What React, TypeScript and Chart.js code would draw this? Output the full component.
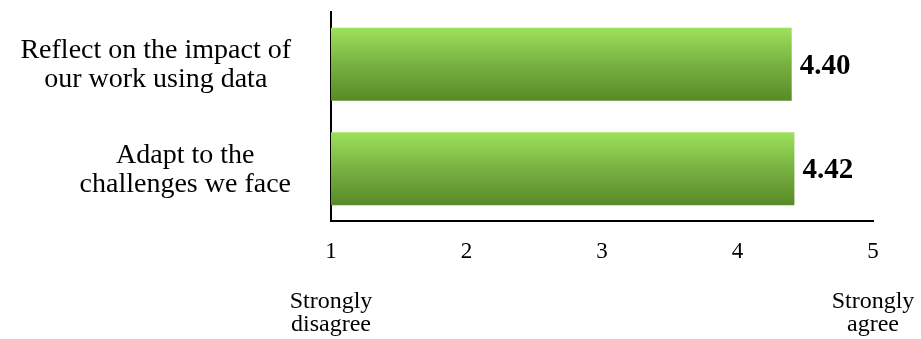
import React, { useEffect, useRef } from 'react';
import { Chart, registerables } from 'chart.js';

Chart.register(...registerables);

const categories: string[][] = [
  ['Reflect on the impact of', 'our work using data'],
  ['Adapt to the', 'challenges we face'],
];
const values: number[] = [4.4, 4.42];
const valueLabels: string[] = ['4.40', '4.42'];
const scaleMin = 1;
const scaleMax = 5;
const scaleEndLabels: string[][] = [
  ['Strongly', 'disagree'],
  ['Strongly', 'agree'],
];
const scaleEndValues: number[] = [1, 5];

const SERIF = '"Liberation Serif", "Times New Roman", serif';
const W = 921;
const H = 339;

const labelPlugin = {
  id: 'customLabels',
  afterDraw(chart: any) {
    const ctx = chart.ctx as CanvasRenderingContext2D;
    const meta = chart.getDatasetMeta(0);
    const area = chart.chartArea;
    ctx.save();
    ctx.fillStyle = '#000';

    // category labels: block right-aligned, lines centred in block
    ctx.font = `28px ${SERIF}`;
    ctx.textAlign = 'center';
    ctx.textBaseline = 'alphabetic';
    categories.forEach((lines, i) => {
      const bar = meta.data[i];
      if (!bar) return;
      const w = Math.max(...lines.map((l) => ctx.measureText(l).width));
      const cx = area.left - 40 - w / 2;
      lines.forEach((l, j) => ctx.fillText(l, cx, bar.y - 6 + j * 29));
    });

    // value labels
    ctx.font = `bold 29px ${SERIF}`;
    ctx.textAlign = 'left';
    ctx.textBaseline = 'middle';
    valueLabels.forEach((t, i) => {
      const bar = meta.data[i];
      if (!bar) return;
      ctx.fillText(t, bar.x + 8, bar.y + 2);
    });

    // scale end labels
    ctx.font = `24px ${SERIF}`;
    ctx.textAlign = 'center';
    ctx.textBaseline = 'alphabetic';
    const xs = chart.scales.x;
    scaleEndLabels.forEach((lines, i) => {
      const x = xs.getPixelForValue(scaleEndValues[i]);
      lines.forEach((l, j) => ctx.fillText(l, x, area.bottom + 87 + j * 23));
    });
    ctx.restore();
  },
};

export default function App() {
  const ref = useRef<HTMLCanvasElement | null>(null);

  useEffect(() => {
    if (!ref.current) return;
    const chart = new Chart(ref.current, {
      type: 'bar',
      data: {
        labels: categories.map((c) => c.join(' ')),
        datasets: [
          {
            data: values,
            base: scaleMin,
            barPercentage: 0.7,
            categoryPercentage: 1,
            borderWidth: 0,
            backgroundColor: (ctx: any) => {
              const chart = ctx.chart;
              const ys = chart.scales?.y;
              if (!ys || !chart.chartArea || ctx.dataIndex === undefined) return '#78B141';
              const c = ys.getPixelForValue(ctx.dataIndex);
              const half = ((ys.height / categories.length) * 0.7) / 2;
              const g = chart.ctx.createLinearGradient(0, c - half, 0, c + half);
              g.addColorStop(0, '#9DE15C');
              g.addColorStop(0.5, '#78B141');
              g.addColorStop(1, '#588A27');
              return g;
            },
          } as any,
        ],
      },
      options: {
        indexAxis: 'y',
        animation: false,
        responsive: false,
        layout: { padding: { top: 12, right: 48, left: 0, bottom: 0 } },
        plugins: {
          legend: { display: false },
          tooltip: { enabled: false },
        },
        scales: {
          x: {
            type: 'linear',
            min: scaleMin,
            max: scaleMax,
            ticks: {
              stepSize: 1,
              color: '#000',
              font: { family: SERIF, size: 23 },
              padding: 17,
            },
            grid: { display: false, drawTicks: false },
            border: { display: true, color: '#000', width: 2 },
            afterFit: (s: any) => {
              s.height = H - 221;
            },
          },
          y: {
            type: 'category',
            ticks: { display: false },
            grid: { display: false, drawTicks: false },
            border: { display: true, color: '#000', width: 2 },
            afterFit: (s: any) => {
              s.width = 331;
            },
          },
        },
      },
      plugins: [labelPlugin],
    } as any);
    return () => chart.destroy();
  }, []);

  return (
    <div style={{ position: 'fixed', left: 0, top: 0, width: W, height: H, background: '#fff' }}>
      <canvas ref={ref} width={W} height={H} style={{ display: 'block', width: W, height: H }} />
    </div>
  );
}
